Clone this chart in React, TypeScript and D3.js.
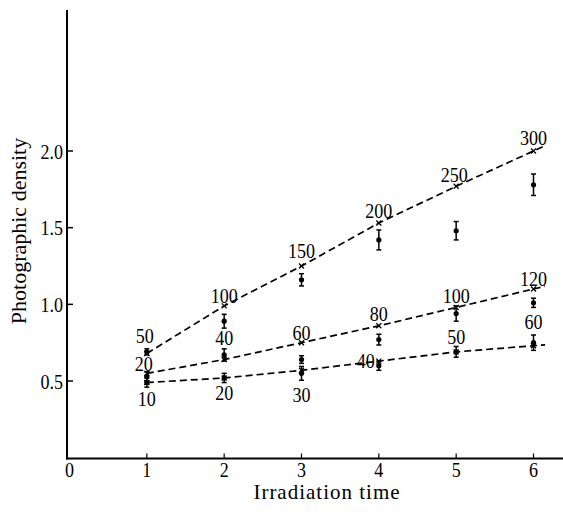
import { useRef, useEffect } from "react";
import * as d3 from "d3";

// irradiation time steps
const times = [1, 2, 3, 4, 5, 6];

// calculated densities (dashed lines, x markers)
const calcHigh = [0.68, 0.99, 1.25, 1.53, 1.77, 2.0];
const calcMid = [0.55, 0.64, 0.75, 0.86, 0.98, 1.1];
const calcLow = [0.49, 0.52, 0.57, 0.63, 0.69, 0.73];

// labels written next to the calculated points
const labelsHigh = ["50", "100", "150", "200", "250", "300"];
const labelsMid = ["20", "40", "60", "80", "100", "120"];
const labelsLow = ["10", "20", "30", "40", "50", "60"];

// measured densities with error (half range)
const measHigh = [0.69, 0.89, 1.16, 1.42, 1.48, 1.78];
const errHigh = [0.02, 0.045, 0.04, 0.065, 0.06, 0.07];
const measMid = [0.53, 0.67, 0.64, 0.77, 0.94, 1.01];
const errMid = [0.03, 0.04, 0.025, 0.035, 0.05, 0.03];
const measLow = [0.49, 0.52, 0.55, 0.6, 0.69, 0.75];
const errLow = [0.03, 0.03, 0.045, 0.03, 0.035, 0.05];

const xTicks = [0, 1, 2, 3, 4, 5, 6];
const yTicks = [0.5, 1.0, 1.5, 2.0];

export default function App() {
	const ref = useRef<HTMLDivElement>(null);

	useEffect(() => {
		const width = 563;
		const height = 516;
		const font = "\"Liberation Serif\", \"DejaVu Serif\", Times, serif";

		d3.select(ref.current).selectAll("*").remove();

		const svg = d3
			.select(ref.current)
			.append("svg")
			.attr("width", width)
			.attr("height", height)
			.style("display", "block")
			.style("background", "#fff")
			.style("font-family", font);

		// ---- Scales ----
		const x = d3.scaleLinear().domain([0, 6]).range([69.5, 533.5]);
		const y = d3.scaleLinear().domain([0, 2]).range([457.7, 151]);

		const axisX = 67;
		const axisY = y(0) + 0.8;

		// ---- Axes ----
		svg.append("line")
			.attr("x1", axisX)
			.attr("x2", axisX)
			.attr("y1", y(2.92))
			.attr("y2", axisY + 1)
			.attr("stroke", "#000")
			.attr("stroke-width", 2);

		svg.append("line")
			.attr("x1", axisX - 1)
			.attr("x2", width)
			.attr("y1", axisY)
			.attr("y2", axisY)
			.attr("stroke", "#000")
			.attr("stroke-width", 2);

		// narrow numerals like the printed figure
		const num = (g: any, tx: number, ty: number, s: string, anchor = "middle") =>
			g
				.append("text")
				.attr("transform", `translate(${tx},${ty}) scale(0.82,1)`)
				.attr("text-anchor", anchor)
				.attr("font-family", font)
				.attr("font-size", 22)
				.attr("fill", "#000")
				.text(s);

		yTicks.forEach((t) => {
			svg.append("line")
				.attr("x1", axisX)
				.attr("x2", axisX + 6)
				.attr("y1", y(t))
				.attr("y2", y(t))
				.attr("stroke", "#000")
				.attr("stroke-width", 1.5);
			num(svg, 63, y(t) + 7.5, d3.format(".1f")(t), "end");
		});

		xTicks.forEach((t) => {
			if (t > 0)
				svg.append("line")
					.attr("x1", x(t))
					.attr("x2", x(t))
					.attr("y1", axisY)
					.attr("y2", axisY - 5)
					.attr("stroke", "#000")
					.attr("stroke-width", 1.2);
			num(svg, x(t), 477, String(t));
		});

		// ---- Axis labels ----
		svg.append("text")
			.attr("x", 327)
			.attr("y", 499)
			.attr("text-anchor", "middle")
			.attr("font-family", font)
			.attr("font-size", 21)
			.attr("letter-spacing", 1)
			.text("Irradiation time");

		svg.append("text")
			.attr("transform", `translate(26,${231}) rotate(-90)`)
			.attr("text-anchor", "middle")
			.attr("font-family", font)
			.attr("font-size", 22)
			.text("Photographic density");

		// ---- Series ----
		const series = [
			{ calc: calcHigh, labels: labelsHigh, meas: measHigh, err: errHigh,
				nudge: [[-2, -10], [0, -3], [0, -8], [0, -5], [-2, -4], [0, -6]] },
			{ calc: calcMid, labels: labelsMid, meas: measMid, err: errMid,
				nudge: [[-3, -2], [0, -15], [0, -3], [0, -5], [0, -4], [0, -3]] },
			{ calc: calcLow, labels: labelsLow, meas: measLow, err: errLow,
				nudge: [[0, 23], [0, 22], [0, 32], [-13, 7], [0, -8], [0, -17]] },
		];

		const line = d3
			.line<number>()
			.x((d, i) => x(times[i]))
			.y((d) => y(d));

		series.forEach((s) => {
			// dashed fit line, carried a little past the last point
			const n = s.calc.length;
			const slope = s.calc[n - 1] - s.calc[n - 2];
			const ext = s.calc[n - 1] + slope * 0.15;
			svg.append("path")
				.attr("d", line(s.calc) + `L${x(6.15)},${y(ext)}`)
				.attr("fill", "none")
				.attr("stroke", "#000")
				.attr("stroke-width", 1.7)
				.attr("stroke-dasharray", "7,4");

			// x markers
			s.calc.forEach((v, i) => {
				const cx = x(times[i]);
				const cy = y(v);
				svg.append("path")
					.attr("d", `M${cx - 2.5},${cy - 2.5}L${cx + 2.5},${cy + 2.5}M${cx - 2.5},${cy + 2.5}L${cx + 2.5},${cy - 2.5}`)
					.attr("stroke", "#000")
					.attr("stroke-width", 1.3);
				num(svg, cx + s.nudge[i][0], cy + s.nudge[i][1], s.labels[i]);
			});

			// measured points with error bars
			s.meas.forEach((v, i) => {
				const cx = x(times[i]);
				const lo = y(v - s.err[i]);
				const hi = y(v + s.err[i]);
				const g = svg.append("g").attr("stroke", "#000").attr("stroke-width", 1.5);
				g.append("line").attr("x1", cx).attr("x2", cx).attr("y1", lo).attr("y2", hi);
				g.append("line").attr("x1", cx - 2.5).attr("x2", cx + 2.5).attr("y1", lo).attr("y2", lo);
				g.append("line").attr("x1", cx - 2.5).attr("x2", cx + 2.5).attr("y1", hi).attr("y2", hi);
				svg.append("circle").attr("cx", cx).attr("cy", y(v)).attr("r", 2.6).attr("fill", "#000");
			});
		});
	}, []);

	return <div ref={ref} style={{ position: "absolute", left: 0, top: 0 }} />;
}
